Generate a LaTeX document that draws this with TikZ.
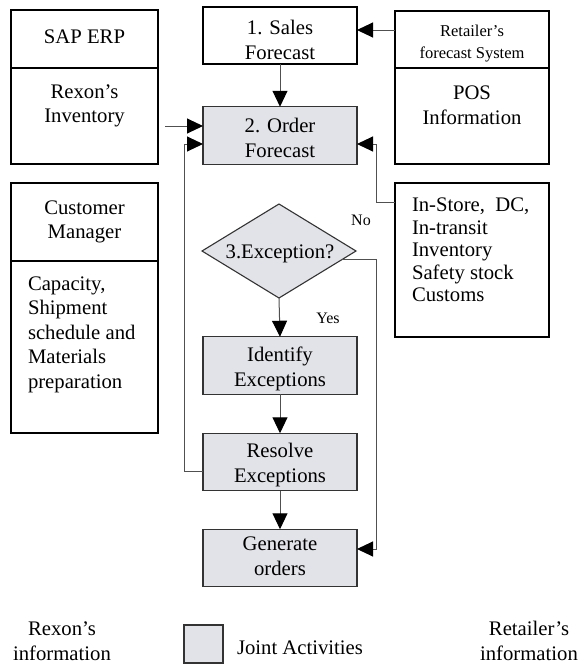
\documentclass[tikz,border=0pt]{standalone}
\usepackage{fontspec}
\setmainfont{Liberation Serif}
\usetikzlibrary{arrows.meta,shapes.geometric,calc}
\definecolor{jointfill}{RGB}{226,227,232}
\definecolor{linegray}{RGB}{80,80,80}
\begin{document}
\begin{tikzpicture}[x=1pt,y=-1pt,
  every node/.style={inner sep=0pt,outer sep=0pt},
  txt/.style={align=center,font=\fontsize{20.7}{24.5}\selectfont},
  ltxt/.style={align=left,anchor=west,font=\fontsize{20.7}{24.5}\selectfont},
  smalltxt/.style={align=center,font=\fontsize{16.5}{22}\selectfont},
  infobox/.style={draw=black,line width=1.8pt},
  jointbox/.style={draw=black!80,line width=1.1pt,fill=jointfill,minimum width=154pt,minimum height=57.5pt},
  whitebox/.style={draw=black,line width=1.1pt,minimum width=154pt,minimum height=57pt},
  conn/.style={draw=linegray,line width=1pt,-{Triangle[length=16pt,width=15pt,color=black]}},
  plainline/.style={draw=linegray,line width=1pt}
]
\useasboundingbox (0,0) rectangle (580,665);

% left column (Rexon)
\node[infobox,minimum width=147pt,minimum height=58pt] (sap) at (84.5,39) {};
\node[txt] (saptxt) at (84.5,37) {SAP ERP};
\node[infobox,minimum width=147pt,minimum height=96pt] (rexinv) at (84.5,116) {};
\node[txt] (rexinvtxt) at (84.5,106) {Rexon's\\Inventory};
\node[infobox,minimum width=147pt,minimum height=78pt] (cm) at (84.5,222) {};
\node[txt] (cmtxt) at (84.5,222) {Customer\\Manager};
\node[infobox,minimum width=147pt,minimum height=172pt] (cap) at (84.5,347) {};
\node[ltxt] (captxt) at (28,334.5) {Capacity,\\Shipment\\schedule and\\Materials\\preparation};

% right column (Retailer)
\node[infobox,minimum width=154pt,minimum height=57.5pt] (retfc) at (472,39.5) {};
\node[smalltxt] (retfctxt) at (472,44) {Retailer's\\forecast System};
\node[infobox,minimum width=154pt,minimum height=96pt] (pos) at (472,116) {};
\node[txt] (postxt) at (472,105) {POS\\Information};
\node[infobox,minimum width=154pt,minimum height=154pt] (instore) at (472,260) {};
\node[align=left,anchor=west,font=\fontsize{20.7}{22.5}\selectfont] (instoretxt) at (412,250)
  {In-Store,\ \ DC,\\In-transit\\Inventory\\Safety stock\\Customs};

% centre column (joint activities)
\node[whitebox] (sales) at (280,35.5) {};
\node[txt] (salestxt) at (280,40) {1. Sales\\Forecast};
\node[jointbox] (order) at (280,135.5) {};
\node[txt] (ordertxt) at (280,138) {2. Order\\Forecast};
\node[diamond,draw=black!80,line width=1.1pt,fill=jointfill,minimum width=154pt,minimum height=94pt,aspect=1.64] (exc) at (279,251) {};
\node[txt] (exctxt) at (280,254) {3.Exception?};
\node[jointbox] (identify) at (280,365.5) {};
\node[txt] (identifytxt) at (280,369) {Identify\\Exceptions};
\node[jointbox] (resolve) at (280,462) {};
\node[txt] (resolvetxt) at (280,465) {Resolve\\Exceptions};
\node[jointbox] (generate) at (280,558) {};
\node[txt] (generatetxt) at (280,556) {Generate\\orders};

\node[font=\fontsize{16}{19}\selectfont] (nolbl) at (361,220) {No};
\node[font=\fontsize{16}{19}\selectfont] (yeslbl) at (328,318) {Yes};

% connectors
\draw[conn] (sales) -- (order);
\draw[conn] ([yshift=9.5pt]retfc.west) coordinate (rf) -- (rf -| sales.east);
\draw[conn] ([shift={(7pt,-10pt)}]rexinv.east) coordinate (ri) -- (ri -| order.west);
\draw[conn] ([yshift=-9pt]resolve.west) -- ++(-19,0) |- ([yshift=-8.5pt]order.west);
\draw[conn] ([yshift=-19pt]instore.north west) -- ++(-19,0) |- ([yshift=-8.5pt]order.east);
\draw[conn] (exc.south) -- (identify.north);
\draw[conn] (identify) -- (resolve);
\draw[conn] (resolve) -- (generate);
\coordinate (nostart) at ($(exc.east)!0.19!(exc.south)$);
\draw[conn] (nostart) -- ++(35,0) |- ([yshift=9pt]generate.east);

% legend
\node[txt] (legrex) at (62,641) {Rexon's\\information};
\node[draw=black!80,line width=1.1pt,fill=jointfill,minimum width=39pt,minimum height=38pt] (legbox) at (203.5,644) {};
\node[txt,anchor=west] (legjoint) at (237,648) {Joint Activities};
\node[txt] (legret) at (529,641) {Retailer's\\information};
\end{tikzpicture}
\end{document}
